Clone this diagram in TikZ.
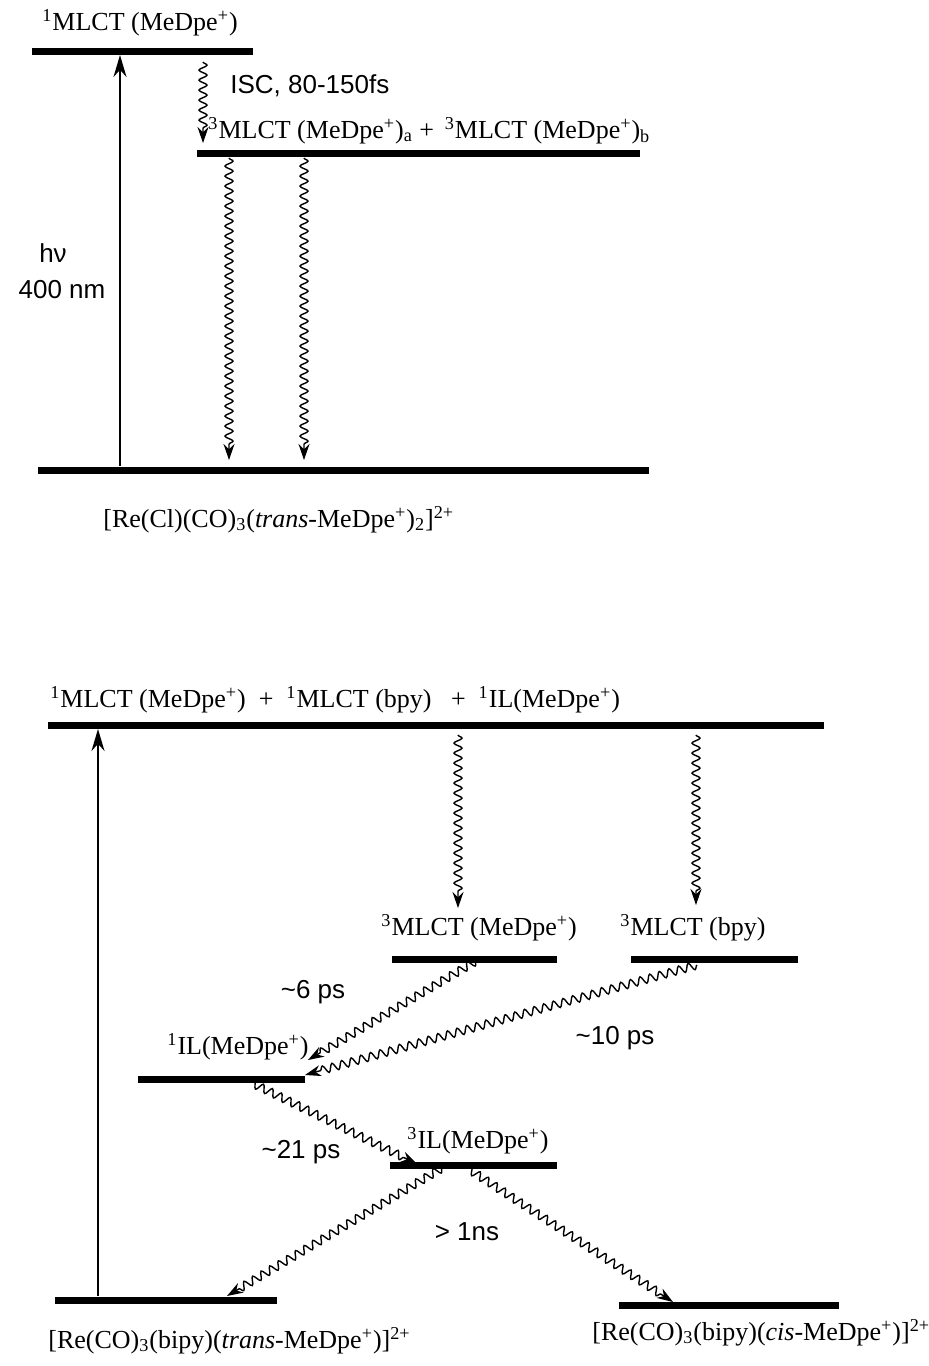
\documentclass[tikz,border=0pt]{standalone}
\usepackage{fontspec}
\setmainfont{Liberation Serif}
\setsansfont{Liberation Sans}
\usetikzlibrary{arrows.meta,decorations.pathmorphing}

\tikzset{
  statebar/.style={line width=3.5pt},
  excite/.style={line width=1pt,-{Stealth[length=11pt,width=6.5pt]}},
  wavy/.style={line width=0.7pt,decorate,
    decoration={snake,amplitude=2pt,segment length=5pt,post length=6pt},
    -{Stealth[length=8pt,width=5.5pt]}},
  lbl/.style={font=\fontsize{13}{15}\selectfont,inner sep=0pt},
  rate/.style={font=\sffamily\fontsize{13}{15}\selectfont,inner sep=0pt}
}

\begin{document}
\begin{tikzpicture}[x=0.5pt,y=-0.5pt]
\useasboundingbox (0,0) rectangle (929,1366);

    % Upper scheme: levels
    \draw[statebar] (32,51) -- (253,51);
    \draw[statebar] (197,153.5) -- (640,153.5);
    \draw[statebar] (38,470) -- (649,470);

    % Upper scheme: labels
    \node[lbl,anchor=base] (s1up) at (140,30) {\textsuperscript{1}MLCT (MeDpe\textsuperscript{+})};
    \node[lbl,anchor=base west] (t1up) at (208,138) {\textsuperscript{3}MLCT (MeDpe\textsuperscript{+})\textsubscript{a} + \,\textsuperscript{3}MLCT (MeDpe\textsuperscript{+})\textsubscript{b}};
    \node[lbl,anchor=base west] (cplxa) at (103,527) {[Re(Cl)(CO)\textsubscript{3}(\textit{trans}-MeDpe\textsuperscript{+})\textsubscript{2}]\textsuperscript{2+}};
    \node[rate,anchor=base west] (isc) at (230,93) {ISC, 80-150fs};
    \node[rate,anchor=base] (hnu) at (53,262) {hν};
    \node[rate,anchor=base] (nm) at (62,298) {400 nm};

    % Upper scheme: arrow end points
    \coordinate (exa) at (120,466); % ground
    \coordinate (exb) at (120,55);  % singlet
    \coordinate (isca) at (203,62);
    \coordinate (iscb) at (203,143);
    \coordinate (da1) at (229,158);
    \coordinate (db1) at (229,460);
    \coordinate (da2) at (304,158);
    \coordinate (db2) at (304,460);

    \draw[excite] (exa) -- (exb);
    \draw[wavy] (isca) -- (iscb);
    \draw[wavy] (da1) -- (db1);
    \draw[wavy] (da2) -- (db2);

    % Lower scheme: levels
    \draw[statebar] (48,725) -- (824,725);
    \draw[statebar] (392,959) -- (557,959);
    \draw[statebar] (631,959) -- (798,959);
    \draw[statebar] (138,1079) -- (305,1079);
    \draw[statebar] (390,1165) -- (557,1165);
    \draw[statebar] (55,1300) -- (277,1300);
    \draw[statebar] (619,1305) -- (839,1305);

    % Lower scheme: labels
    \node[lbl,anchor=base west] (s1lo) at (50,707) {\textsuperscript{1}MLCT (MeDpe\textsuperscript{+})~~+~~\textsuperscript{1}MLCT (bpy)~~~+~~\textsuperscript{1}IL(MeDpe\textsuperscript{+})};
    \node[lbl,anchor=base west] (t1me) at (381,935) {\textsuperscript{3}MLCT (MeDpe\textsuperscript{+})};
    \node[lbl,anchor=base west] (t1bp) at (620,935) {\textsuperscript{3}MLCT (bpy)};
    \node[lbl,anchor=base west] (s1il) at (167,1054) {\textsuperscript{1}IL(MeDpe\textsuperscript{+})};
    \node[lbl,anchor=base west] (t1il) at (407,1148) {\textsuperscript{3}IL(MeDpe\textsuperscript{+})};
    \node[lbl,anchor=base west] (cplxb) at (48,1348) {[Re(CO)\textsubscript{3}(bipy)(\textit{trans}-MeDpe\textsuperscript{+})]\textsuperscript{2+}};
    \node[lbl,anchor=base west] (cplxc) at (592,1340) {[Re(CO)\textsubscript{3}(bipy)(\textit{cis}-MeDpe\textsuperscript{+})]\textsuperscript{2+}};

    \node[rate] (r6) at (313,992) {\textasciitilde6 ps};
    \node[rate] (r10) at (615,1038) {\textasciitilde10 ps};
    \node[rate] (r21) at (301,1152) {\textasciitilde21 ps};
    \node[rate] (r1ns) at (467,1232) {> 1ns};

    % Lower scheme: arrow end points
    \coordinate (exc) at (98,1296);
    \coordinate (exd) at (98,729);
    \coordinate (ua1) at (458,735);
    \coordinate (ub1) at (458,908);
    \coordinate (ua2) at (696,735);
    \coordinate (ub2) at (696,905);
    \coordinate (pa) at (476,961);  % 3MLCT(MeDpe+)
    \coordinate (pb) at (308,1060);
    \coordinate (qa) at (697,965);  % 3MLCT(bpy)
    \coordinate (qb) at (305,1075);
    \coordinate (ra) at (250,1082); % 1IL
    \coordinate (rb) at (417,1164);
    \coordinate (la) at (442,1168); % 3IL
    \coordinate (lb) at (227,1296);
    \coordinate (ka) at (467,1168);
    \coordinate (kb) at (673,1302);

    \draw[excite] (exc) -- (exd);
    \draw[wavy] (ua1) -- (ub1);
    \draw[wavy] (ua2) -- (ub2);
    \draw[wavy] (pa) -- (pb);
    \draw[wavy] (qa) -- (qb);
    \draw[wavy] (ra) -- (rb);
    \draw[wavy] (la) -- (lb);
    \draw[wavy] (ka) -- (kb);

\end{tikzpicture}
\end{document}
